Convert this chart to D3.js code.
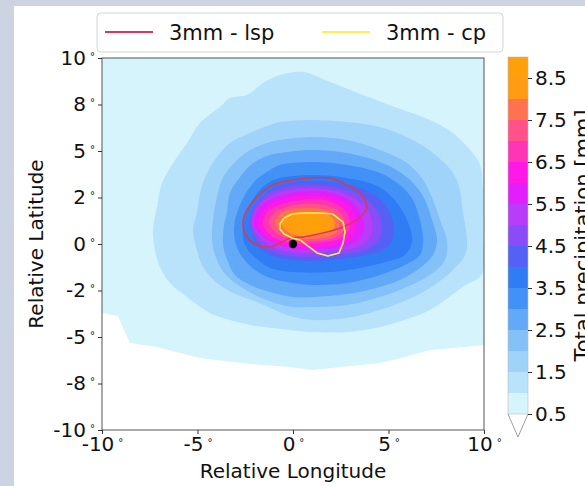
<!DOCTYPE html>
<html>
<head>
<meta charset="utf-8">
<script src="https://cdn.jsdelivr.net/npm/d3@7"></script>
<style>
  html, body { margin: 0; padding: 0; background: #ccd4e2; }
  svg { display: block; font-family: "DejaVu Sans", sans-serif; }
</style>
</head>
<body>
<svg id="chart" width="585" height="486"></svg>
<script>
// ---- axis ticks ----
const lonTicks = [-10, -5, 0, 5, 10];
const lonTickLabels = ["-10", "-5", "0", "5", "10"];
const latTicks = [-10, -7.5, -5, -2.5, 0, 2.5, 5, 7.5, 10];
const latTickLabels = ["-10", "-8", "-5", "-2", "0", "2", "5", "8", "10"];

// ---- filled contour levels (mm) and the colour of the band above each level ----
const levels = [0.5, 1.0, 1.5, 2.0, 2.5, 3.0, 3.5, 4.0, 4.5, 5.0, 5.5, 6.0, 6.5, 7.0, 7.5, 8.0, 8.5];
const levelTop = 9.0;
const bandColors = ["#d5f4fc", "#b9e3fb", "#a0d3fa", "#84c1f9", "#62a9f8", "#4291f6", "#2f7cf4",
                    "#5560f5", "#8a4cf6", "#b93cf8", "#e21ffa", "#ff18e6", "#ff35b8", "#ff5288",
                    "#ff7250", "#ff9c14", "#ff9f0a"];
const cbarTicks = [0.5, 1.5, 2.5, 3.5, 4.5, 5.5, 6.5, 7.5, 8.5];

// ---- composite total precipitation: outline of each level, [rel. lon, rel. lat] ----
const tp050 = [[-10.6,10.6],[10.6,10.6],[10.6,-5.43],[10,-5.43],[8.48,-5.59],[7.17,-5.70],[5.86,-6.08],[4.55,-6.40],[2.98,-6.56],[1.05,-6.77],[-0.16,-6.61],[-2.25,-6.45],[-4.87,-6.13],[-7.12,-5.54],[-8.53,-5.32],[-8.85,-4.62],[-9.16,-3.87],[-10,-3.71],[-10.6,-3.71]];
const tp100 = [[0.52,9.25],[1.94,8.71],[3.66,8.01],[5.76,7.20],[7.17,6.67],[8.38,5.97],[9.27,5.05],[9.79,4.25],[9.95,2.90],[9.95,0.75],[9.9,-1.6],[8.9,-2.3],[7.17,-3.55],[6.13,-3.98],[4.55,-4.46],[2.83,-4.73],[1.05,-4.73],[-0.16,-4.62],[-2.25,-4.35],[-3.66,-3.98],[-4.35,-3.71],[-5.55,-2.85],[-6.44,-2.10],[-6.96,-1.24],[-7.23,-0.32],[-7.33,0.75],[-7.12,1.99],[-6.86,3.28],[-6.28,4.35],[-5.55,5.43],[-4.87,6.51],[-3.82,7.37],[-3.30,7.85],[-2.41,8.01],[-1.57,8.66],[-0.68,9.09]];
const tp150 = [[-0.68,6.56],[1.05,6.67],[2.83,6.56],[4.55,6.29],[6.28,5.59],[7.33,4.89],[8.38,3.82],[8.74,2.90],[8.90,1.67],[9.11,0.22],[9.01,-0.59],[8.38,-1.40],[7.17,-2.37],[5.97,-3.01],[4.55,-3.55],[2.83,-3.98],[1.05,-4.09],[-0.16,-3.87],[-1.88,-3.12],[-3.14,-2.63],[-3.98,-2.10],[-4.71,-1.24],[-5.03,-0.32],[-5.24,0.75],[-5.03,1.67],[-4.87,2.74],[-4.50,3.82],[-3.98,4.68],[-3.30,5.43],[-2.25,5.97],[-1.20,6.40]];
const tp200 = [[-0.68,5.59],[1.05,5.75],[2.83,5.59],[4.55,5.05],[5.97,4.35],[6.81,3.44],[7.33,2.37],[7.70,1.29],[8.06,0.22],[7.96,-0.86],[7.17,-1.67],[5.60,-2.47],[4.55,-2.85],[2.83,-3.28],[1.05,-3.39],[0,-3.39],[-0.94,-3.17],[-1.99,-2.74],[-3.04,-2.10],[-3.72,-1.40],[-4.08,-0.59],[-4.24,0.22],[-4.19,1.29],[-3.98,2.53],[-3.66,3.60],[-2.93,4.52],[-2.25,5.05],[-1.20,5.48]];
const tp250 = [[-0.68,4.89],[1.05,5.05],[2.83,4.89],[4.55,4.41],[5.60,3.87],[6.39,3.17],[6.91,2.37],[7.28,1.29],[7.54,0.22],[7.33,-0.59],[6.65,-1.29],[5.60,-1.94],[4.55,-2.31],[2.83,-2.69],[1.05,-2.85],[0,-2.85],[-1.20,-2.58],[-2.25,-2.20],[-3.04,-1.67],[-3.40,-0.97],[-3.66,-0.05],[-3.61,1.02],[-3.46,1.67],[-3.30,2.74],[-2.77,3.60],[-2.09,4.35],[-1.20,4.78]];
const tp300 = [[-0.68,4.25],[1.05,4.41],[2.83,4.25],[4.55,3.82],[5.60,3.17],[6.28,2.37],[6.65,1.29],[6.81,0.22],[6.65,-0.59],[5.86,-1.13],[4.55,-1.67],[2.83,-2.10],[1.05,-2.20],[0,-2.10],[-1.20,-1.83],[-1.99,-1.40],[-2.62,-0.75],[-2.98,-0.05],[-3.09,0.86],[-2.88,1.83],[-2.36,2.90],[-1.83,3.55],[-1.20,3.98]];
const tp350 = [[-0.68,3.55],[1.05,3.71],[2.83,3.55],[4.29,3.17],[5.18,2.53],[5.76,1.72],[6.13,0.86],[6.23,0.11],[5.86,-0.59],[4.82,-0.97],[3.51,-1.29],[1.94,-1.51],[0,-1.51],[-1.20,-1.29],[-1.83,-0.86],[-2.36,-0.32],[-2.62,0.32],[-2.57,1.18],[-2.25,2.10],[-1.83,2.80],[-1.31,3.28]];
const tp400 = [[-0.42,3.28],[1.05,3.39],[2.72,3.23],[4.03,2.80],[4.82,2.10],[5.24,1.18],[5.18,0.22],[4.71,-0.32],[3.77,-0.59],[2.46,-0.81],[0.89,-0.91],[-0.42,-0.81],[-1.31,-0.54],[-1.88,-0.05],[-2.15,0.65],[-2.09,1.56],[-1.73,2.37],[-1.20,2.90]];
const tp450 = [[-2.25,1.02],[-1.99,2.10],[-1.20,2.80],[0.10,3.12],[1.68,3.12],[2.98,2.85],[4.03,2.26],[4.61,1.29],[4.56,0.32],[3.93,-0.27],[2.72,-0.54],[1.15,-0.70],[-0.16,-0.65],[-1.20,-0.32],[-1.88,0.22]];
const tp500 = [[-2.15,1.02],[-1.88,1.99],[-1.10,2.63],[0.16,2.96],[1.68,2.96],[2.88,2.63],[3.72,2.04],[4.14,1.18],[4.03,0.32],[3.35,-0.16],[2.20,-0.38],[0.89,-0.48],[-0.26,-0.43],[-1.20,-0.11],[-1.78,0.38]];
const tp550 = [[-2.04,1.02],[-1.78,1.94],[-0.99,2.47],[0.26,2.80],[1.68,2.80],[2.78,2.47],[3.40,1.88],[3.72,1.08],[3.51,0.32],[2.72,-0.11],[1.41,-0.27],[0.10,-0.27],[-0.99,0.05],[-1.68,0.48]];
const tp600 = [[-1.83,1.08],[-1.57,1.83],[-0.84,2.31],[0.37,2.58],[1.68,2.58],[2.62,2.26],[3.14,1.72],[3.30,1.02],[2.98,0.32],[2.09,-0.05],[0.79,-0.16],[-0.31,-0.11],[-1.20,0.27],[-1.62,0.65]];
const tp650 = [[-1.57,1.13],[-1.31,1.77],[-0.58,2.15],[0.47,2.37],[1.68,2.37],[2.46,2.04],[2.88,1.56],[2.98,0.91],[2.62,0.38],[1.68,0.11],[0.47,0.0],[-0.58,0.16],[-1.20,0.48]];
const tp700 = [[-1.26,1.18],[-0.94,1.72],[-0.31,1.99],[0.58,2.15],[1.57,2.10],[2.30,1.83],[2.67,1.34],[2.67,0.75],[2.15,0.32],[1.15,0.16],[0.21,0.16],[-0.63,0.43],[-1.05,0.75]];
const tp750 = [[-0.94,1.18],[-0.63,1.67],[-0.05,1.88],[0.68,1.94],[1.52,1.88],[2.15,1.61],[2.41,1.18],[2.30,0.65],[1.52,0.32],[0.47,0.27],[-0.37,0.48],[-0.79,0.81]];
const tp800 = [[-0.63,1.13],[-0.31,1.56],[0.26,1.72],[0.99,1.72],[1.73,1.61],[2.15,1.29],[2.09,0.75],[1.31,0.48],[0.37,0.43],[-0.26,0.65]];
const tp850 = [[-0.16,1.13],[0.21,1.45],[0.89,1.51],[1.52,1.40],[1.73,1.08],[1.31,0.75],[0.47,0.70],[0,0.86]];
const tpRings = [tp050, tp100, tp150, tp200, tp250, tp300, tp350, tp400, tp450, tp500, tp550, tp600, tp650, tp700, tp750, tp800, tp850];

// ---- 3 mm contours of large-scale and convective precipitation ----
const lsp3 = [[0.89,3.55],[1.94,3.55],[2.62,3.28],[3.51,2.74],[3.87,1.99],[3.51,1.45],[2.62,0.91],[1.57,0.59],[0.52,0.38],[-0.16,0.32],[-0.68,0.05],[-1.20,-0.16],[-1.88,-0.05],[-2.41,0.38],[-2.62,1.13],[-2.41,1.83],[-1.88,2.53],[-1.05,3.17],[0,3.44]];
const cp3 = [[-0.68,1.08],[-0.47,1.40],[-0.05,1.61],[0.63,1.67],[1.41,1.67],[2.09,1.61],[2.62,1.18],[2.72,0.65],[2.62,0.05],[2.41,-0.48],[1.83,-0.65],[1.26,-0.48],[0.79,-0.11],[0.37,0.22],[-0.05,0.32],[-0.47,0.54],[-0.68,0.81]];
const legendLabels = ["3mm - lsp", "3mm - cp"];
const legendColors = ["#d8385f", "#fff04e"];
const centre = [0, 0];

// ---- layout ----
const W = 585, H = 486;
const plot = { left: 102, right: 484, top: 58, bottom: 430 };
const cbar = { left: 508, width: 20, top: 57, bottom: 414, tip: 437 };
const FONT = "'DejaVu Sans', sans-serif";

const x = d3.scaleLinear().domain([-10, 10]).range([plot.left, plot.right]);
const y = d3.scaleLinear().domain([-10, 10]).range([plot.bottom, plot.top]);
const c = d3.scaleLinear().domain([levels[0], levelTop]).range([cbar.bottom, cbar.top]);

const svg = d3.select("#chart");

// figure canvas
svg.append("rect").attr("x", 14).attr("y", 6).attr("width", W - 14).attr("height", H - 6).attr("fill", "#ffffff");

svg.append("defs").append("clipPath").attr("id", "plotClip")
  .append("rect").attr("x", plot.left).attr("y", plot.top)
  .attr("width", plot.right - plot.left).attr("height", plot.bottom - plot.top);

const map = svg.append("g").attr("clip-path", "url(#plotClip)");
map.append("rect").attr("x", plot.left).attr("y", plot.top)
  .attr("width", plot.right - plot.left).attr("height", plot.bottom - plot.top).attr("fill", "#ffffff");

const smoothRing = d3.line().x(d => x(d[0])).y(d => y(d[1])).curve(d3.curveCatmullRomClosed.alpha(0.5));
const straightRing = d3.line().x(d => x(d[0])).y(d => y(d[1])).curve(d3.curveLinearClosed);

// filled bands, lowest level first
tpRings.forEach((ring, i) => {
  map.append("path")
    .attr("d", i === 0 ? straightRing(ring) : smoothRing(ring))
    .attr("fill", bandColors[i]);
});

// 3 mm contour lines
map.append("path").attr("d", smoothRing(lsp3)).attr("fill", "none")
  .attr("stroke", legendColors[0]).attr("stroke-width", 1.6);
map.append("path").attr("d", straightRing(cp3)).attr("fill", "none")
  .attr("stroke", legendColors[1]).attr("stroke-width", 1.6).attr("stroke-linejoin", "round");

// storm centre
map.append("circle").attr("cx", x(centre[0])).attr("cy", y(centre[1])).attr("r", 4.2).attr("fill", "#000");

// frame
svg.append("rect").attr("x", plot.left).attr("y", plot.top)
  .attr("width", plot.right - plot.left).attr("height", plot.bottom - plot.top)
  .attr("fill", "none").attr("stroke", "#555").attr("stroke-width", 1);

// degree-marked tick labels
function degreeLabels(sel) {
  sel.selectAll(".tick text").each(function () {
    const t = d3.select(this);
    const s = t.text();
    t.text(null);
    t.append("tspan").text(s);
    t.append("tspan").attr("dx", 4).attr("dy", "-0.5em").attr("font-size", 10).text("°");
  });
}

const yAxis = d3.axisLeft(y).tickValues(latTicks).tickSize(4).tickPadding(3)
  .tickFormat((d, i) => latTickLabels[i]);
const ya = svg.append("g").attr("transform", `translate(${plot.left},0)`).call(yAxis);
ya.select(".domain").remove();
ya.selectAll(".tick line").attr("stroke", "#333");
ya.selectAll(".tick text").attr("font-size", 20).attr("font-family", FONT).attr("fill", "#111");
degreeLabels(ya);

const xAxis = d3.axisBottom(x).tickValues(lonTicks).tickSize(4).tickPadding(3)
  .tickFormat((d, i) => lonTickLabels[i]);
const xa = svg.append("g").attr("transform", `translate(0,${plot.bottom})`).call(xAxis);
xa.select(".domain").remove();
xa.selectAll(".tick line").attr("stroke", "#333");
xa.selectAll(".tick text").attr("font-size", 20).attr("font-family", FONT).attr("fill", "#111");
degreeLabels(xa);

// axis titles
svg.append("text").attr("x", (plot.left + plot.right) / 2).attr("y", 478)
  .attr("text-anchor", "middle").attr("font-size", 20).attr("font-family", FONT).attr("fill", "#111")
  .text("Relative Longitude");
svg.append("text").attr("transform", `translate(43,${(plot.top + plot.bottom) / 2}) rotate(-90)`)
  .attr("text-anchor", "middle").attr("font-size", 20).attr("font-family", FONT).attr("fill", "#111")
  .text("Relative Latitude");

// colour bar
const cb = svg.append("g");
levels.forEach((lv, i) => {
  const hi = i + 1 < levels.length ? levels[i + 1] : levelTop;
  cb.append("rect").attr("x", cbar.left).attr("width", cbar.width)
    .attr("y", c(hi)).attr("height", c(lv) - c(hi)).attr("fill", bandColors[i]);
});
cb.append("path")
  .attr("d", `M${cbar.left},${c(levels[0])}L${cbar.left + cbar.width / 2},${cbar.tip}L${cbar.left + cbar.width},${c(levels[0])}`)
  .attr("fill", "#ffffff").attr("stroke", "#888").attr("stroke-width", 0.8);
cb.append("rect").attr("x", cbar.left).attr("y", c(levelTop)).attr("width", cbar.width)
  .attr("height", c(levels[0]) - c(levelTop)).attr("fill", "none").attr("stroke", "#bbb").attr("stroke-width", 0.6);

const cAxis = d3.axisRight(c).tickValues(cbarTicks).tickSize(4).tickPadding(3).tickFormat(d3.format(".1f"));
const ca = svg.append("g").attr("transform", `translate(${cbar.left + cbar.width},0)`).call(cAxis);
ca.select(".domain").remove();
ca.selectAll(".tick line").attr("stroke", "#333");
ca.selectAll(".tick text").attr("font-size", 20).attr("font-family", FONT).attr("fill", "#111");

svg.append("text").attr("transform", `translate(590,${(cbar.top + cbar.bottom) / 2}) rotate(-90)`)
  .attr("text-anchor", "middle").attr("font-size", 21).attr("font-family", FONT).attr("fill", "#111")
  .text("Total precipitation [mm]");

// legend
const lg = svg.append("g");
lg.append("rect").attr("x", 97).attr("y", 13).attr("width", 406).attr("height", 39).attr("rx", 4)
  .attr("fill", "#ffffff").attr("stroke", "#d4d4d4").attr("stroke-width", 1);
const legendX = [105, 322];
legendLabels.forEach((lab, i) => {
  lg.append("line").attr("x1", legendX[i]).attr("x2", legendX[i] + 48).attr("y1", 32).attr("y2", 32)
    .attr("stroke", legendColors[i]).attr("stroke-width", 2);
  lg.append("text").attr("x", legendX[i] + 64).attr("y", 40).attr("font-size", 21).attr("font-family", FONT)
    .attr("fill", "#111").text(lab);
});
</script>
</body>
</html>
